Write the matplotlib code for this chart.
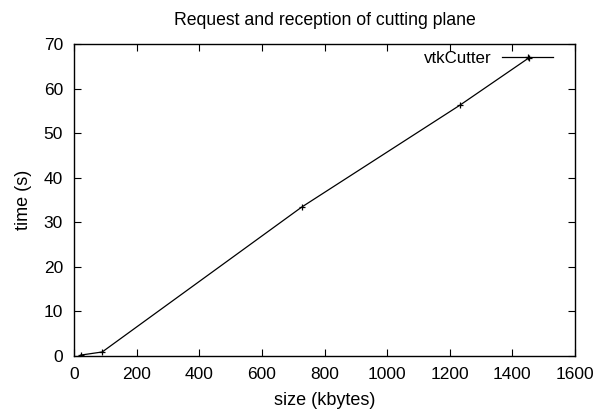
import matplotlib
matplotlib.use("Agg")
import matplotlib.pyplot as plt

size_kb = [21, 90, 727, 1233, 1453]
time_s = [0.2, 0.9, 33.4, 56.3, 66.9]
xticks = [0, 200, 400, 600, 800, 1000, 1200, 1400, 1600]
yticks = [0, 10, 20, 30, 40, 50, 60, 70]

plt.rcParams['font.family'] = ['Liberation Sans', 'DejaVu Sans']
fs = 12.5
fig = plt.figure(figsize=(5.96, 4.15), dpi=100)
ax = fig.add_axes([74/596, 59/415, 501/596, 312/415])
ax.plot(size_kb, time_s, color='black', lw=0.9, marker='+', ms=5, mew=0.9, label='vtkCutter')
ax.set_xlim(0, 1600)
ax.set_ylim(0, 70)
ax.set_xticks(xticks)
ax.set_yticks(yticks)
ax.tick_params(direction='in', top=True, right=True, labelsize=fs, length=5, width=0.8, pad=8)
for s in ax.spines.values():
    s.set_linewidth(1.0)
ax.set_xlabel('size (kbytes)', fontsize=13, labelpad=7)
ax.set_ylabel('time (s)', fontsize=13, labelpad=8)
ax.set_title('Request and reception of cutting plane', fontsize=12.7, pad=14)
ax.legend(loc='upper right', bbox_to_anchor=(0.970, 1.0), frameon=False, markerfirst=False,
          fontsize=12.2, numpoints=1, handlelength=3.0, borderaxespad=0.0, handletextpad=0.66)
fig.savefig('out.png', dpi=100)
